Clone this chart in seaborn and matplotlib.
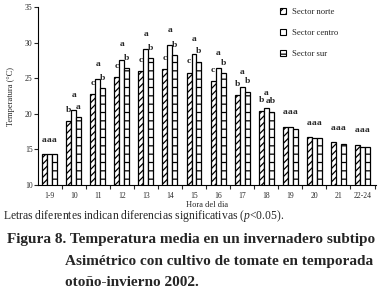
import numpy as np
import pandas as pd
import matplotlib
matplotlib.use("Agg")
import matplotlib.pyplot as plt
import seaborn as sns
from matplotlib.patches import Patch

# ---- data ----
horas = ["1-9", "10", "11", "12", "13", "14", "15", "16", "17", "18", "19", "20", "21", "22-24"]
series = ["Sector norte", "Sector centro", "Sector sur"]
norte = [14.3, 19.0, 22.8, 25.1, 26.0, 26.3, 25.8, 24.6, 22.6, 20.4, 18.2, 16.7, 16.0, 15.6]
centro = [14.3, 20.5, 24.9, 27.6, 29.1, 29.6, 28.4, 26.4, 23.7, 20.8, 18.2, 16.55, None, 15.3]
sur = [14.3, 19.5, 23.6, 26.4, 27.8, 28.2, 27.3, 25.7, 23.1, 20.3, 17.9, 16.55, 15.75, 15.3]
letras_norte = ["a", "b", "c", "c", "c", "c", "c", "c", "b", "b", "a", "a", "a", "a"]
letras_centro = ["a", "a", "a", "a", "a", "a", "a", "a", "a", "a", "a", "a", "a", "a"]
letras_sur = ["a", "a", "b", "b", "b", "b", "b", "b", "b", "ab", "a", "a", "a", "a"]

rows = []
for name, vals in zip(series, [norte, centro, sur]):
    for h, v in zip(horas, vals):
        if v is not None:
            rows.append({"Hora": h, "Sector": name, "Temp": v})
df = pd.DataFrame(rows)

sns.set_style("white")
plt.rcParams["font.family"] = ["Liberation Serif", "DejaVu Serif"]
plt.rcParams["hatch.linewidth"] = 0.9
plt.rcParams["mathtext.fontset"] = "custom"
plt.rcParams["mathtext.it"] = "Liberation Serif:italic"
plt.rcParams["mathtext.rm"] = "Liberation Serif"

fig = plt.figure(figsize=(3.8, 2.94), dpi=100)
ax = fig.add_axes([38 / 380, 1 - 185 / 294, (376 - 38) / 380, (185 - 7) / 294])

W = 0.62
sns.barplot(data=df, x="Hora", y="Temp", hue="Sector", order=horas, hue_order=series,
            width=W, errorbar=None, palette=["white"] * 3, edgecolor="black",
            linewidth=0.9, ax=ax, legend=False)

hatches = ["/////", "", "--"]
for cont, hatch in zip(ax.containers, hatches):
    for p in cont.patches:
        p.set_hatch(hatch)
        p.set_facecolor("white")
        p.set_edgecolor("black")

# letters above bars
offs = [-W / 3, 0, W / 3]
lift = [1.0, 1.6, 0.9]
vals_all = [norte, centro, sur]
lets_all = [letras_norte, letras_centro, letras_sur]
for i in range(len(horas)):
    gvals = [v for v in (norte[i], centro[i], sur[i]) if v is not None]
    same = all(l[i] == "a" for l in lets_all)
    for k in range(3):
        v = vals_all[k][i]
        if v is None:
            v = sur[i]
        y = (max(gvals) + 1.5) if same else (v + lift[k])
        ax.text(i + offs[k], y, lets_all[k][i], ha="center", va="bottom",
                fontsize=6.8, fontweight="bold")

ax.set_ylim(10, 35)
ax.set_yticks([10, 15, 20, 25, 30, 35])
ax.set_xlim(-0.48, 13.56)
for s in ["top", "right"]:
    ax.spines[s].set_visible(False)
for s in ["left", "bottom"]:
    ax.spines[s].set_linewidth(0.8)
    ax.spines[s].set_color("black")
ax.tick_params(axis="y", direction="out", length=3, width=0.8, labelsize=5.5, pad=1, left=True)
ax.tick_params(axis="x", which="major", length=0, labelsize=5.5, pad=5)
ax.set_xticks(np.arange(len(horas)) + 0.5, minor=True)
ax.tick_params(axis="x", which="minor", direction="out", length=3, width=0.8, bottom=True)
ax.set_xlabel("Hora del dia", fontsize=6, labelpad=1)
ax.set_ylabel("Temperatura (°C)", fontsize=6, labelpad=7)

# legend
handles = [Patch(facecolor="white", edgecolor="black", hatch=h, linewidth=0.8) for h in ["////", "", "--"]]
leg = ax.legend(handles, series, loc="upper left", bbox_to_anchor=(235 / 338, 1.035), frameon=False,
                fontsize=6.2, handlelength=0.7, handleheight=0.7, handletextpad=0.7,
                labelspacing=1.5, borderpad=0.3)

fig.text(3 / 380, 1 - 216 / 294, "Letras diferentes indican diferencias significativas ($p$<0.05).",
         fontsize=8.4, va="center", ha="left")
fig.text(7 / 380, 1 - 240 / 294, "Figura 8. Temperatura media en un invernadero subtipo",
         fontsize=11, fontweight="bold", va="center", ha="left")
fig.text(65 / 380, 1 - 261 / 294, "Asimétrico con cultivo de tomate en temporada",
         fontsize=11, fontweight="bold", va="center", ha="left")
fig.text(65 / 380, 1 - 282 / 294, "otoño-invierno 2002.",
         fontsize=11, fontweight="bold", va="center", ha="left")

fig.savefig("out.png", dpi=100, facecolor="white")
